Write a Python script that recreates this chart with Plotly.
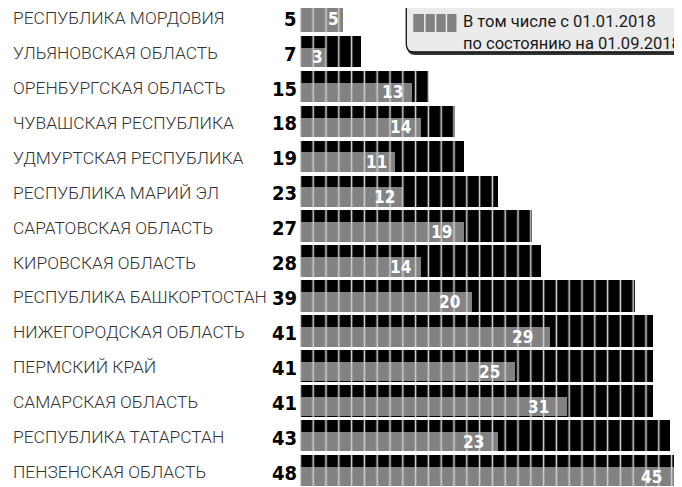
import plotly.graph_objects as go

regions = ["РЕСПУБЛИКА МОРДОВИЯ", "УЛЬЯНОВСКАЯ ОБЛАСТЬ", "ОРЕНБУРГСКАЯ ОБЛАСТЬ",
           "ЧУВАШСКАЯ РЕСПУБЛИКА", "УДМУРТСКАЯ РЕСПУБЛИКА", "РЕСПУБЛИКА МАРИЙ ЭЛ",
           "САРАТОВСКАЯ ОБЛАСТЬ", "КИРОВСКАЯ ОБЛАСТЬ", "РЕСПУБЛИКА БАШКОРТОСТАН",
           "НИЖЕГОРОДСКАЯ ОБЛАСТЬ", "ПЕРМСКИЙ КРАЙ", "САМАРСКАЯ ОБЛАСТЬ",
           "РЕСПУБЛИКА ТАТАРСТАН", "ПЕНЗЕНСКАЯ ОБЛАСТЬ"]
total = [5, 7, 15, 18, 19, 23, 27, 28, 39, 41, 41, 41, 43, 48]
since_2018 = [5, 3, 13, 14, 11, 12, 19, 14, 20, 29, 25, 31, 23, 45]
legend_lines = ["за 2017 и 2018 годы", "В том числе с 01.01.2018", "по состоянию на 01.09.2018"]

OFF = 8  # page body margin: figure starts at (8, 8) in the page
W, H = 682, 487
ML = 293.6 - OFF          # plot-area left edge in figure pixels
PX_PER_UNIT = 8.6
ROW0, PITCH = 18.0 - OFF, 34.93

idx = list(range(len(regions)))
x0 = -(300 - OFF - ML) / PX_PER_UNIT
x1 = x0 + (W - ML) / PX_PER_UNIT
y_top = -ROW0 / PITCH
y_bot = (H - ROW0) / PITCH


def px(xp):  # page x -> paper
    return (xp - OFF - ML) / (W - ML)


def py(yp):  # page y -> paper
    return 1 - (yp - OFF) / H


full = [t == s for t, s in zip(total, since_2018)]
blk_off = [-0.49] * len(total)
blk_w = [0.90] * len(total)
gry_off = [-0.49 if f else -0.15 for f in full]
gry_w = [0.90 if f else 0.555 for f in full]

NARROW = "DejaVu Sans Condensed, Liberation Sans Narrow, Arial Narrow, sans-serif"

fig = go.Figure()
fig.add_trace(go.Bar(
    y=idx, x=total, orientation="h", offset=blk_off, width=blk_w,
    marker=dict(color="#000000", line=dict(width=0),
                pattern=dict(shape="|", size=12.8, solidity=0.12,
                             fgcolor="#d8d8d8", bgcolor="#000000", fillmode="replace")),
    hoverinfo="skip", showlegend=False))
fig.add_trace(go.Bar(
    y=idx, x=since_2018, orientation="h", offset=gry_off, width=gry_w,
    marker=dict(color="#828282", line=dict(width=0),
                pattern=dict(shape="|", size=12.8, solidity=0.12,
                             fgcolor="#cfcfcf", bgcolor="#828282", fillmode="replace")),
    hoverinfo="skip", showlegend=False))

ann = []
for i, (name, t, s) in enumerate(zip(regions, total, since_2018)):
    ann.append(dict(x=px(10), xref="paper", y=i, yref="y", text=name, showarrow=False,
                    xanchor="left", yanchor="middle",
                    font=dict(family="Roboto", size=17.4, color="#333333", weight=300)))
    ann.append(dict(x=px(299), xref="paper", y=i + 0.02, yref="y", text=str(t), showarrow=False,
                    xanchor="right", yanchor="middle",
                    font=dict(family=NARROW, size=20, color="#000000", weight="bold")))
    yc = i + (gry_off[i] + gry_w[i] / 2) + (0.07 if full[i] else 0)
    ann.append(dict(x=s * 0.94, xref="x", y=yc, yref="y", text=str(s), showarrow=False,
                    xanchor="right", yanchor="middle",
                    font=dict(family=NARROW, size=17, color="#ffffff", weight="bold")))

# legend box (cropped at top/right like the reference)
bx0, by0, bx1, by1, r = 406, -30, 720, 52, 8


def rounded(xa, ya, xb, yb, rr):
    return (f"M{px(xa)},{py(ya)} L{px(xa)},{py(yb - rr)} "
            f"Q{px(xa)},{py(yb)} {px(xa + rr)},{py(yb)} "
            f"L{px(xb - rr)},{py(yb)} Q{px(xb)},{py(yb)} {px(xb)},{py(yb - rr)} "
            f"L{px(xb)},{py(ya)} Z")


shapes = [
    dict(type="path", xref="paper", yref="paper", path=rounded(bx0 + 1, by0, bx1 + 1, by1 + 3, r),
         fillcolor="#333333", line=dict(width=0), layer="above"),
    dict(type="path", xref="paper", yref="paper", path=rounded(bx0, by0, bx1, by1, r),
         fillcolor="#ebebeb", line=dict(color="#111111", width=1.3), layer="above"),
]
# legend swatch: gray blocks with light separators
sw_x, sw_y0, sw_y1, seg = 413, 14, 32, 10.8
for k in range(4):
    shapes.append(dict(type="rect", xref="paper", yref="paper",
                       x0=px(sw_x + k * seg + (1.5 if k else 0)), x1=px(sw_x + (k + 1) * seg),
                       y0=py(sw_y1), y1=py(sw_y0), fillcolor="#828282",
                       line=dict(width=0), layer="above"))

for j, (txt, yy) in enumerate(zip(legend_lines, [-2, 21, 44])):
    ann.append(dict(x=px(461), xref="paper", y=py(yy), yref="paper", text=txt, showarrow=False,
                    xanchor="left", yanchor="middle",
                    font=dict(family="Roboto", size=16.5, color="#1a1a1a")))

fig.update_layout(
    width=W, height=H, margin=dict(l=ML, r=0, t=0, b=0),
    paper_bgcolor="#ffffff", plot_bgcolor="#ffffff",
    barmode="overlay", bargap=0,
    xaxis=dict(range=[x0, x1], visible=False, fixedrange=True),
    yaxis=dict(range=[y_bot, y_top], visible=False, fixedrange=True),
    annotations=ann, shapes=shapes, showlegend=False,
)

fig.write_html("out.html")
